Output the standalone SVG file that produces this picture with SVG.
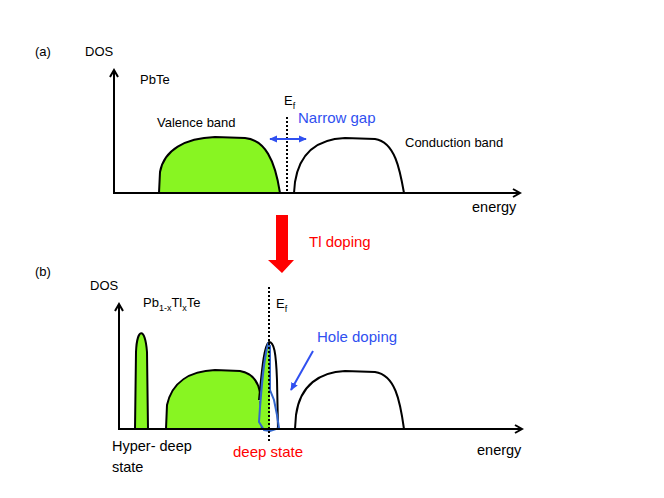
<svg xmlns="http://www.w3.org/2000/svg" width="664" height="498" viewBox="0 0 664 498">
<style>
text{font-family:"Liberation Sans",Arial,sans-serif;font-size:13px;fill:#000}
.big{font-size:14.5px}
.blue{fill:#3050f0;font-size:15px}
.red{fill:#ff0000;font-size:15px}
.ax{stroke:#000;stroke-width:2;fill:none}
.band{fill:#88f522;stroke:#000;stroke-width:2}
.cb{fill:#fff;stroke:#000;stroke-width:2}
.ef{stroke:#000;stroke-width:2;stroke-dasharray:2,2;fill:none}
</style>
<defs>
<marker id="ah" viewBox="0 0 10 10" refX="8" refY="5" markerWidth="10" markerHeight="10" markerUnits="userSpaceOnUse" orient="auto">
<path d="M1,1 L8,5 L1,9" fill="none" stroke="#000" stroke-width="2"/>
</marker>
<marker id="bh" viewBox="0 0 10 10" refX="8" refY="5" markerWidth="9" markerHeight="9" markerUnits="userSpaceOnUse" orient="auto-start-reverse">
<path d="M0,1 L9,5 L0,9 Z" fill="#3050f0"/>
</marker>
</defs>
<g id="panel-a">
<text x="35" y="56">(a)</text>
<text x="85" y="56">DOS</text>
<text x="140" y="84">PbTe</text>
<g id="valence-a"><path class="band" d="M159,193 L160,172 C164,150 185,138 215,137 L245,138 C265,140 275,160 280,193"/><text x="157" y="127">Valence band</text></g>
<g id="conduction-a"><path class="cb" d="M294,193 L295,182 C300,150 320,139 345,138 L375,139 C395,142 400,170 404,193"/><text x="405" y="147">Conduction band</text></g>
<g id="ef-a"><path class="ef" d="M287,117 L287,193"/><text x="284" y="105">E<tspan font-size="9" dy="4">f</tspan></text></g>
<g id="gap-a"><path d="M270,139 L306,139" stroke="#3050f0" stroke-width="2" marker-start="url(#bh)" marker-end="url(#bh)"/><text class="blue" x="298" y="123">Narrow gap</text></g>
<text class="big" x="472" y="212">energy</text>
</g>
<g id="doping-arrow">
<path d="M276,215 L288,215 L288,260 L294,260 L282,273 L268,260 L276,260 Z" fill="#ff0000"/>
<text class="red" x="309" y="247">Tl doping</text>
</g>
<g id="panel-b">
<text x="35" y="276">(b)</text>
<text x="90" y="290">DOS</text>
<text x="143" y="307">Pb<tspan font-size="9" dy="4">1-x</tspan><tspan dy="-4">Tl</tspan><tspan font-size="9" dy="4">x</tspan><tspan dy="-4">Te</tspan></text>
<g id="hyperdeep"><path class="band" d="M135,429 L136,352 C137,328 145,326 147,352 L148,429"/><text class="big" x="112" y="451">Hyper- deep</text><text class="big" x="112" y="472">state</text></g>
<g id="valence-b"><path class="band" d="M166,429 L167,405 C172,382 190,371 215,370 L240,371 C252,373 258,382 260,392 L262,429"/></g>
<g id="deep-state">
<path d="M278,429 L277,380 C276,352 274,342 269,342 C264,345 262,370 259,400" fill="#fff" stroke="#000" stroke-width="2"/>
<path d="M259,424 C261,392 263,362 268,344 L270,345 L270,430 L264,430 Z" fill="#88f522"/>
<path d="M264,430 L259,422 C261,392 263,362 268,344 L270,346 L270,390 L274,400 L277,415 L279,428 L270,431 Z" fill="none" stroke="#3366cc" stroke-width="2"/>
<text class="red" x="233" y="457">deep state</text>
</g>
<g id="conduction-b"><path class="cb" d="M295,429 L296,415 C300,385 320,372 345,371 L375,372 C395,375 400,400 404,429"/></g>
<g id="ef-b"><path class="ef" d="M269,287 L269,441"/><text x="276" y="308">E<tspan font-size="9" dy="4">f</tspan></text></g>
<g id="hole-doping"><path d="M313,351 L291,390" stroke="#3050f0" stroke-width="2" marker-end="url(#bh)"/><text class="blue" x="317" y="342">Hole doping</text></g>
<text class="big" x="477" y="455">energy</text>
</g>
<g id="connectors">
<path class="ax" d="M114,193 L114,70" marker-end="url(#ah)"/>
<path class="ax" d="M113,193 L520,193" marker-end="url(#ah)"/>
<path class="ax" d="M119,429 L119,304" marker-end="url(#ah)"/>
<path class="ax" d="M118,429 L522,429" marker-end="url(#ah)"/>
</g>
</svg>
